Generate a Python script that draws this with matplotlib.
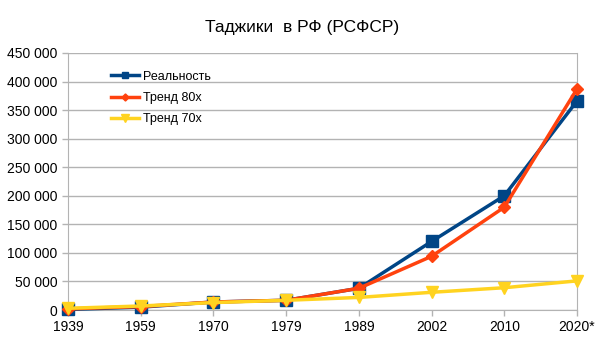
import matplotlib.pyplot as plt

plt.rcParams['font.family'] = ['Liberation Sans', 'DejaVu Sans']

years = ['1939', '1959', '1970', '1979', '1989', '2002', '2010', '2020*']
real = [1000, 5000, 14000, 17000, 38000, 120000, 200000, 366000]
trend_80 = [2000, 6000, 14000, 17000, 38000, 94000, 180000, 387000]
trend_70 = [3000, 7000, 13000, 17000, 22000, 31000, 39000, 51000]


def fmt(v, pos):
    return '{:,}'.format(int(v)).replace(',', ' ')


fig = plt.figure(figsize=(6.05, 3.4), dpi=100)
ax = fig.add_axes([68 / 605, 1 - 310 / 340, 509 / 605, 257 / 340])

x = range(len(years))
ax.plot(x, real, color='#004586', lw=2.5, marker='s', ms=8, label='Реальность', zorder=3)
ax.plot(x, trend_80, color='#ff420e', lw=2.5, marker='D', ms=6, label='Тренд 80х', zorder=4)
ax.plot(x, trend_70, color='#ffd320', lw=2.5, marker='v', ms=9, label='Тренд 70х', zorder=5)

ax.set_xlim(0, len(years) - 1)
ax.set_ylim(0, 450000)
ax.set_yticks(range(0, 450001, 50000))
ax.yaxis.set_major_formatter(plt.FuncFormatter(fmt))
ax.set_xticks(list(x))
ax.set_xticklabels(years)
ax.tick_params(labelsize=10, length=4, width=1, color='#b3b3b3')
ax.grid(axis='y', color='#b3b3b3', lw=1)
ax.set_axisbelow(True)
for side in ['left', 'bottom', 'right']:
    ax.spines[side].set_color('#b3b3b3')
ax.spines['top'].set_visible(False)
for line in ax.lines:
    line.set_clip_on(False)

leg = ax.legend(loc='upper left', bbox_to_anchor=(0.063, 0.975), frameon=False,
                fontsize=9, handlelength=2.2, labelspacing=0.75, handletextpad=0.3,
                markerscale=0.6)

fig.text(0.5, 0.92, 'Таджики  в РФ (РСФСР)', ha='center', va='center', fontsize=12.5)

fig.savefig('out.png', dpi=100)
